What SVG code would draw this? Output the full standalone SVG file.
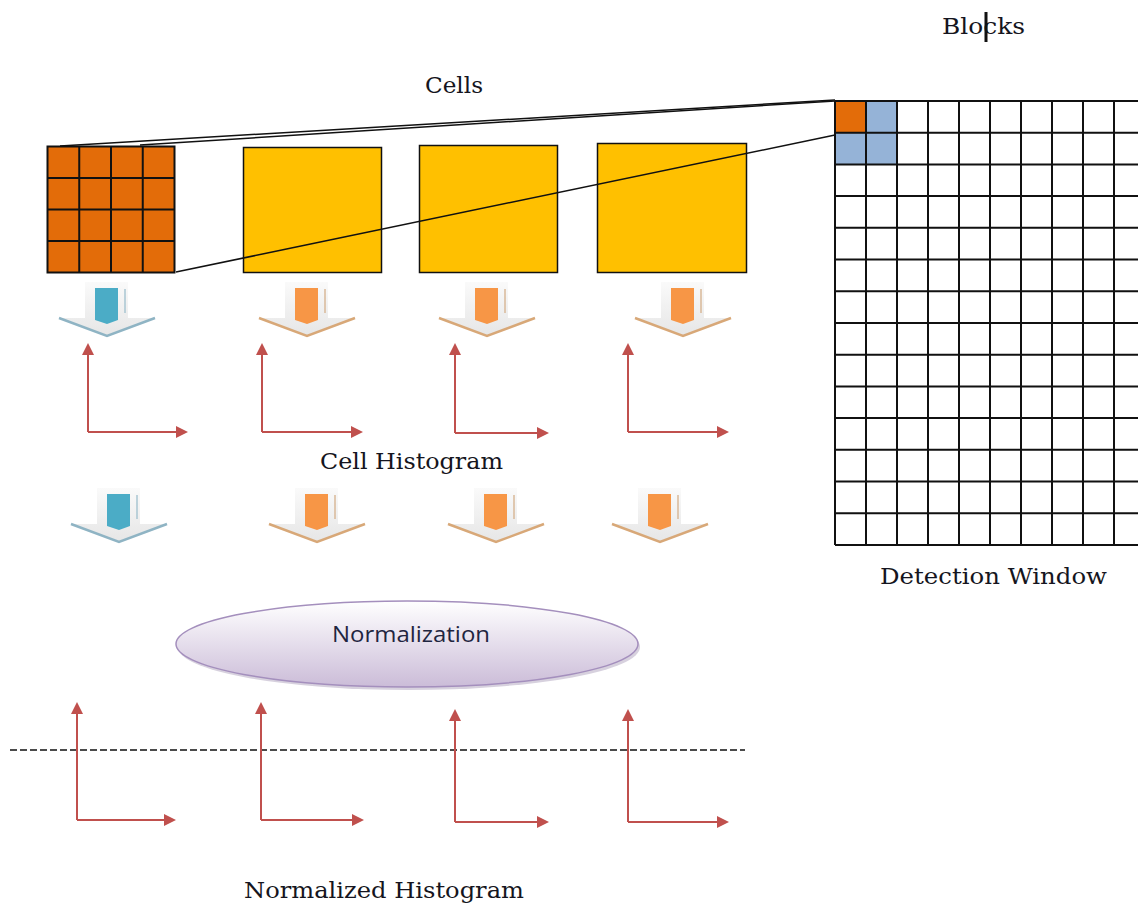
<svg xmlns="http://www.w3.org/2000/svg" width="1138" height="906" viewBox="0 0 1138 906">
<defs>
<style>
.lbl{font-family:"DejaVu Serif","Liberation Serif",serif;font-size:22px;fill:#151520}
.grid{stroke:#111;stroke-width:2;fill:none}
.ax{stroke:#c0504d;stroke-width:2;fill:none;marker-end:url(#ah)}
.conn{stroke:#111;stroke-width:1.5;fill:none}
</style>
<marker id="ah" viewBox="0 0 12 12" refX="10" refY="6" markerWidth="12" markerHeight="12" markerUnits="userSpaceOnUse" orient="auto">
<path d="M0,0 L12,6 L0,12 z" fill="#c0504d"/>
</marker>
<linearGradient id="ag" x1="0" y1="0" x2="0" y2="1">
<stop offset="0" stop-color="#fafafa"/>
<stop offset="1" stop-color="#e6e6e6"/>
</linearGradient>
<linearGradient id="eg" x1="0" y1="0" x2="0" y2="1">
<stop offset="0" stop-color="#ffffff"/>
<stop offset="1" stop-color="#cbbcd8"/>
</linearGradient>
<g id="arrB">
<polygon points="-22,0 21,0 21,36 48,36 0,54 -48,36 -22,36" fill="url(#ag)"/>
<polyline points="-48,36 0,54 48,36" fill="none" stroke="#8fb4c4" stroke-width="2.5"/>
<polygon points="-12,6 11,6 11,38 0,42 -12,38" fill="#4bacc6"/>
<line x1="18" y1="7" x2="18" y2="31" stroke="#a9c6d2" stroke-width="1.5"/>
</g>
<g id="arrO">
<polygon points="-22,0 21,0 21,36 48,36 0,54 -48,36 -22,36" fill="url(#ag)"/>
<polyline points="-48,36 0,54 48,36" fill="none" stroke="#d8a878" stroke-width="2.5"/>
<polygon points="-12,6 11,6 11,38 0,42 -12,38" fill="#f79646"/>
<line x1="18" y1="7" x2="18" y2="31" stroke="#d8b898" stroke-width="1.5"/>
</g>
</defs>
<rect width="1138" height="906" fill="#ffffff"/>

<g id="labels">
<text class="lbl" x="942" y="34" textLength="83" lengthAdjust="spacingAndGlyphs">Blocks</text>
<rect x="984.5" y="12" width="3" height="30" fill="#111"/>
<text class="lbl" x="425" y="93" textLength="58" lengthAdjust="spacingAndGlyphs">Cells</text>
<text class="lbl" x="320" y="469" textLength="183" lengthAdjust="spacingAndGlyphs">Cell Histogram</text>
<text class="lbl" x="880" y="584" textLength="227" lengthAdjust="spacingAndGlyphs">Detection Window</text>
<text class="lbl" x="244" y="898" textLength="280" lengthAdjust="spacingAndGlyphs">Normalized Histogram</text>
</g>

<g id="cell-grid">
<rect x="47.5" y="146.5" width="127" height="126" fill="#e36c09"/>
<path class="grid" d="M47.5,146.5h127v126h-127z M79.25,146.5v126 M111,146.5v126 M142.75,146.5v126 M47.5,178h127 M47.5,209.5h127 M47.5,241h127"/>
</g>

<g id="cell2"><rect x="243.5" y="147.5" width="138" height="125" fill="#ffc000" stroke="#111" stroke-width="1.5"/></g>
<g id="cell3"><rect x="419.5" y="145.5" width="138" height="127" fill="#ffc000" stroke="#111" stroke-width="1.5"/></g>
<g id="cell4"><rect x="597.5" y="143.5" width="149" height="129" fill="#ffc000" stroke="#111" stroke-width="1.5"/></g>

<g id="detection-window">
<rect x="835" y="101" width="31" height="31.7" fill="#e36c09"/>
<rect x="866" y="101" width="31" height="31.7" fill="#95b3d7"/>
<rect x="835" y="132.7" width="31" height="31.7" fill="#95b3d7"/>
<rect x="866" y="132.7" width="31" height="31.7" fill="#95b3d7"/>
<path class="grid" d="M835,101v444 M866,101v444 M897,101v444 M928,101v444 M959,101v444 M990,101v444 M1021,101v444 M1052,101v444 M1083,101v444 M1114,101v444
M835,101h303 M835,132.7h303 M835,164.4h303 M835,196.1h303 M835,227.8h303 M835,259.5h303 M835,291.3h303 M835,323h303 M835,354.7h303 M835,386.4h303 M835,418.1h303 M835,449.8h303 M835,481.5h303 M835,513.2h303 M835,545h303"/>
</g>

<g id="connectors">
<line class="conn" x1="60" y1="146" x2="835" y2="100"/>
<line class="conn" x1="140" y1="145" x2="835" y2="101"/>
<line class="conn" x1="176" y1="272" x2="835" y2="135"/>
</g>

<g id="arrows-row1">
<use href="#arrB" x="107" y="282"/>
<use href="#arrO" x="307" y="282"/>
<use href="#arrO" x="487" y="282"/>
<use href="#arrO" x="683" y="282"/>
</g>

<g id="histograms">
<path class="ax" d="M88,432V345"/><path class="ax" d="M88,432H186"/>
<path class="ax" d="M262,432V345"/><path class="ax" d="M262,432H361"/>
<path class="ax" d="M455,433V345"/><path class="ax" d="M455,433H547"/>
<path class="ax" d="M628,432V345"/><path class="ax" d="M628,432H727"/>
</g>

<g id="arrows-row2">
<use href="#arrB" x="119" y="488"/>
<use href="#arrO" x="317" y="488"/>
<use href="#arrO" x="496" y="488"/>
<use href="#arrO" x="660" y="488"/>
</g>

<g id="normalization">
<ellipse cx="409" cy="647" rx="231" ry="43" fill="#8c7aa0" opacity="0.35"/>
<ellipse cx="407" cy="644" rx="231" ry="43" fill="url(#eg)" stroke="#a48fbd" stroke-width="1.5"/>
<text x="332" y="642" textLength="158" lengthAdjust="spacingAndGlyphs" font-family="'Open Sans','Noto Sans',sans-serif" font-size="22" fill="#1f2540">Normalization</text>
</g>

<g id="dashed-line">
<line x1="10" y1="750" x2="745" y2="750" stroke="#111" stroke-width="1.5" stroke-dasharray="7,3"/>
</g>

<g id="normalized-histograms">
<path class="ax" d="M77,820V704"/><path class="ax" d="M77,820H174"/>
<path class="ax" d="M261,820V704"/><path class="ax" d="M261,820H362"/>
<path class="ax" d="M455,822V711"/><path class="ax" d="M455,822H547"/>
<path class="ax" d="M628,822V711"/><path class="ax" d="M628,822H727"/>
</g>
</svg>
